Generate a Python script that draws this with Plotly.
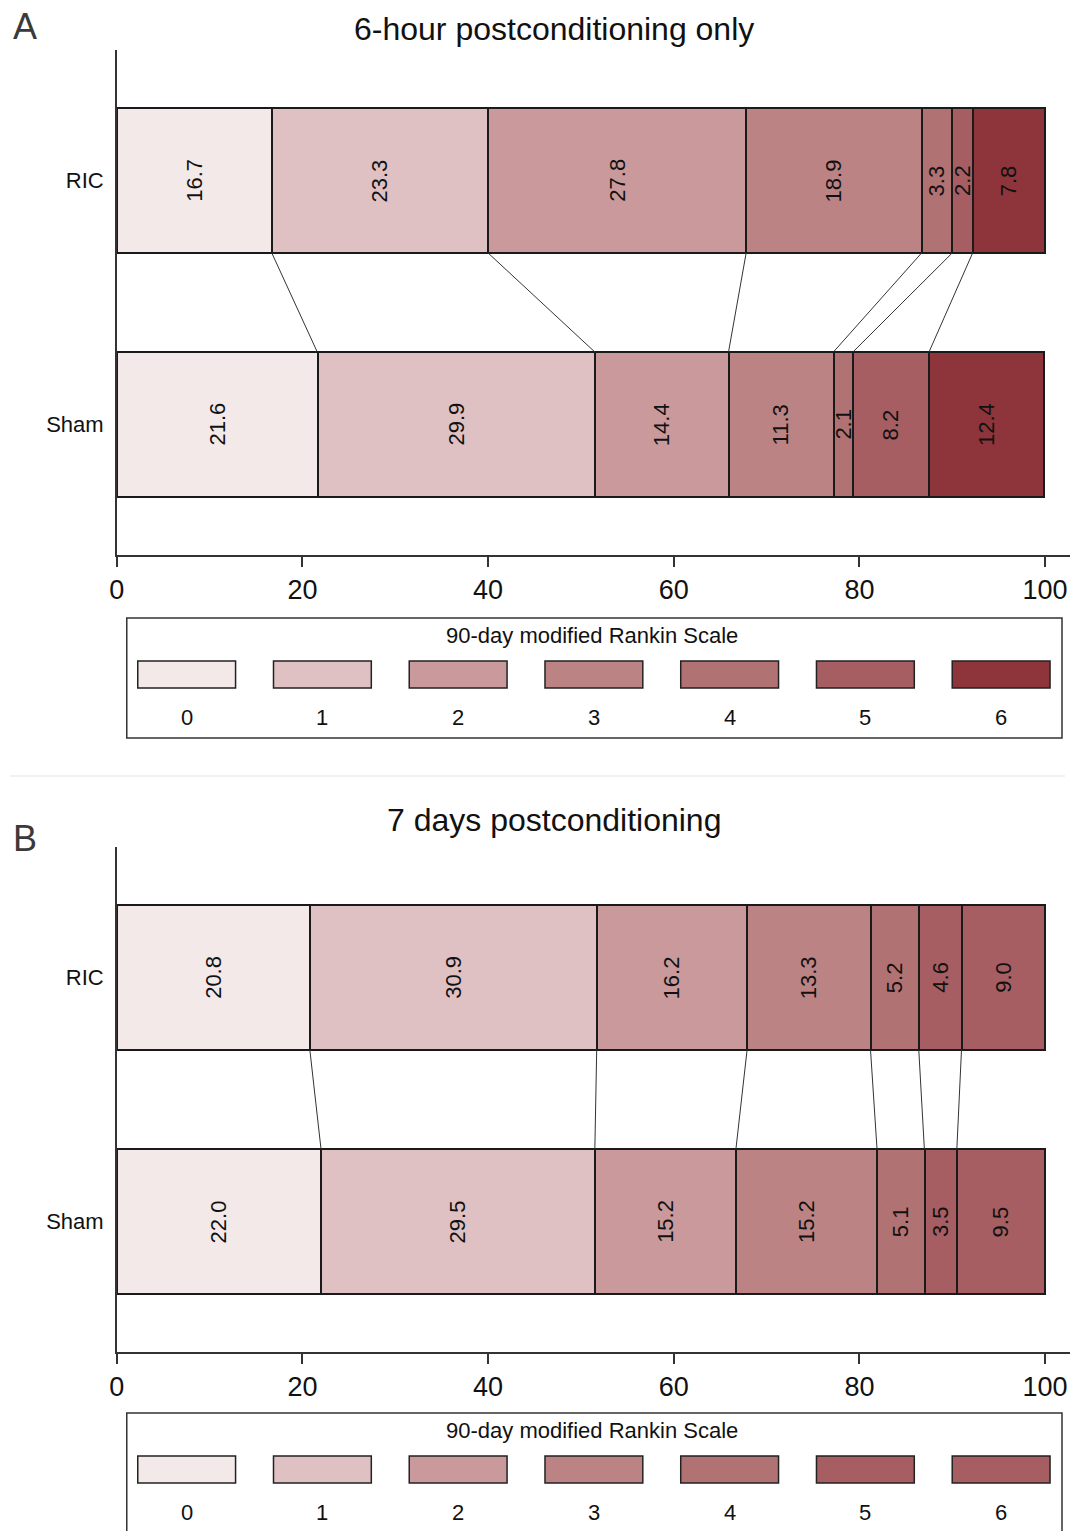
import plotly.graph_objects as go
import numpy as np

# ---------------- data ----------------
categories = ["0", "1", "2", "3", "4", "5", "6"]
groups = ["RIC", "Sham"]

a_ric = [16.7, 23.3, 27.8, 18.9, 3.3, 2.2, 7.8]
a_sham = [21.6, 29.9, 14.4, 11.3, 2.1, 8.2, 12.4]
b_ric = [20.8, 30.9, 16.2, 13.3, 5.2, 4.6, 9.0]
b_sham = [22.0, 29.5, 15.2, 15.2, 5.1, 3.5, 9.5]

colors_a = ["#f3e9e9", "#dfc1c3", "#c9999c", "#bc8385", "#b17274", "#a65e62", "#8e343b"]
colors_b = ["#f3e9e9", "#dfc1c3", "#c9999c", "#bc8385", "#b17274", "#a65e62", "#a65e62"]

x_ticks = [0, 20, 40, 60, 80, 100]
title_a = "6-hour postconditioning only"
title_b = "7 days postconditioning"
legend_title = "90-day modified Rankin Scale"

# ---------------- layout helpers ----------------
W, H = 1070, 1531
FONT = "Liberation Sans, Arial, sans-serif"

# small empirical horizontal correction of the rendering
XOFF, XS = 6.0, 0.9944


def px(x):
    return ((x - XOFF) / XS) / W


def py(y):
    return 1 - y / H


BAR_W = 0.594
HW = BAR_W / 2
Y_POS = {"RIC": 1, "Sham": 0}

panels = [
    dict(letter="A", title=title_a, ric=a_ric, sham=a_sham, colors=colors_a,
         top=50, bottom=555, xa="x", ya="y", title_y=29, letter_y=27,
         leg_top=618, leg_bottom=738),
    dict(letter="B", title=title_b, ric=b_ric, sham=b_sham, colors=colors_b,
         top=847, bottom=1352, xa="x2", ya="y2", title_y=820, letter_y=838,
         leg_top=1413, leg_bottom=1548),
]

fig = go.Figure()
annotations = []
shapes = []

for p in panels:
    ric = np.array(p["ric"])
    sham = np.array(p["sham"])
    # stacked bars
    for i, cat in enumerate(categories):
        fig.add_trace(go.Bar(
            x=[ric[i], sham[i]],
            y=[Y_POS["RIC"], Y_POS["Sham"]],
            orientation="h",
            width=BAR_W,
            marker=dict(color=p["colors"][i], line=dict(color="#1a1a1a", width=2)),
            name=cat,
            showlegend=False,
            xaxis=p["xa"], yaxis=p["ya"],
            hoverinfo="x+name",
        ))
    # bar labels
    for vals, g in ((ric, "RIC"), (sham, "Sham")):
        cum = np.cumsum(vals)
        mids = cum - vals / 2
        for v, m in zip(vals, mids):
            annotations.append(dict(
                x=m, y=Y_POS[g], xref=p["xa"], yref=p["ya"],
                text=f"{v:.1f}", textangle=-90, showarrow=False,
                font=dict(family=FONT, size=22, color="#111"),
            ))
    # connecting lines between boundaries
    cr = np.cumsum(ric)[:-1]
    cs = np.cumsum(sham)[:-1]
    lx, ly = [], []
    for a, b in zip(cr, cs):
        lx += [a, b, None]
        ly += [Y_POS["RIC"] - HW, Y_POS["Sham"] + HW, None]
    fig.add_trace(go.Scatter(
        x=lx, y=ly, mode="lines", line=dict(color="#333", width=1),
        showlegend=False, hoverinfo="skip", xaxis=p["xa"], yaxis=p["ya"],
    ))

    # titles
    annotations.append(dict(
        x=px(553), y=py(p["title_y"]), xref="paper", yref="paper",
        text=p["title"], showarrow=False, xanchor="center", yanchor="middle",
        font=dict(family=FONT, size=32, color="#111"),
    ))
    annotations.append(dict(
        x=px(9), y=py(p["letter_y"]), xref="paper", yref="paper",
        text=p["letter"], showarrow=False, xanchor="left", yanchor="middle",
        font=dict(family=FONT, size=36, color="#3a3a3a"),
    ))

    # legend box
    shapes.append(dict(
        type="rect", xref="paper", yref="paper",
        x0=px(125), x1=px(1062), y0=py(p["leg_bottom"]), y1=py(p["leg_top"]),
        line=dict(color="#333", width=1.5), fillcolor="rgba(0,0,0,0)",
    ))
    annotations.append(dict(
        x=px(591), y=py(p["leg_top"] + 17), xref="paper", yref="paper",
        text=legend_title, showarrow=False, xanchor="center", yanchor="middle",
        font=dict(family=FONT, size=22, color="#111"),
    ))
    for i, cat in enumerate(categories):
        x0 = 136 + i * 136
        shapes.append(dict(
            type="rect", xref="paper", yref="paper",
            x0=px(x0), x1=px(x0 + 98),
            y0=py(p["leg_top"] + 70), y1=py(p["leg_top"] + 43),
            line=dict(color="#222", width=1.5), fillcolor=p["colors"][i],
        ))
        annotations.append(dict(
            x=px(x0 + 49), y=py(p["leg_top"] + 99), xref="paper", yref="paper",
            text=cat, showarrow=False, xanchor="center", yanchor="middle",
            font=dict(family=FONT, size=22, color="#111"),
        ))

# separator between panels
shapes.append(dict(
    type="line", xref="paper", yref="paper",
    x0=px(8), x1=px(1065), y0=py(776), y1=py(776),
    line=dict(color="#ececec", width=1.5),
))

x_left = px(115)
x_dom = [x_left, 1.0]
unit = (px(1045) - x_left) * W / 100.0   # design px per data unit
xaxis_common = dict(
    range=[0, (W - x_left * W) / unit], tickvals=x_ticks, ticktext=[str(t) for t in x_ticks],
    showline=True, linecolor="#333", linewidth=1.5, ticks="outside", ticklen=10,
    tickcolor="#333", tickwidth=1.5, showgrid=False, zeroline=False,
    tickfont=dict(family=FONT, size=27, color="#111"), domain=x_dom, fixedrange=True,
)
yrange = [-0.535, 1.535]
yaxis_common = dict(
    range=yrange, tickvals=[Y_POS[g] for g in groups], ticktext=groups,
    showline=True, linecolor="#333", linewidth=1.5, ticks="", showgrid=False,
    zeroline=False, tickfont=dict(family=FONT, size=22, color="#111"),
    ticklabelstandoff=7, fixedrange=True,
)

fig.update_layout(
    width=W, height=H,
    margin=dict(l=0, r=0, t=0, b=0),
    paper_bgcolor="white", plot_bgcolor="white",
    barmode="stack", bargap=0,
    showlegend=False,
    xaxis=dict(**xaxis_common, anchor="y"),
    yaxis=dict(**yaxis_common, anchor="x",
               domain=[py(panels[0]["bottom"]), py(panels[0]["top"])]),
    xaxis2=dict(**xaxis_common, anchor="y2"),
    yaxis2=dict(**yaxis_common, anchor="x2",
                domain=[py(panels[1]["bottom"]), py(panels[1]["top"])]),
    annotations=annotations,
    shapes=shapes,
)

fig.write_html(
    "out.html",
    config={"displayModeBar": False},
    post_script="document.body.style.margin='0';document.body.style.overflow='hidden';",
)
